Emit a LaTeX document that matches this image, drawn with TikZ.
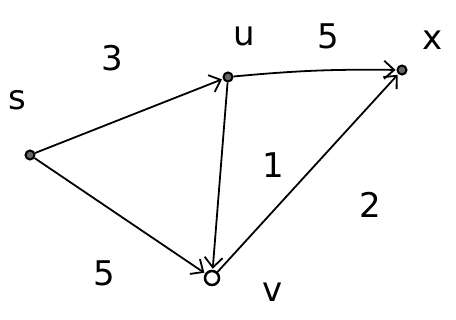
\documentclass[tikz,border=0pt]{standalone}
\usepackage{fontspec}
\setmainfont{DejaVu Sans}
\usetikzlibrary{arrows.meta}
\begin{document}
\begin{tikzpicture}[x=1pt,y=-1pt,
  vtx/.style={circle,draw,line width=2pt,fill=black!60,inner sep=0pt,minimum size=9pt},
  edge/.style={line width=1.8pt,-{Straight Barb[length=10pt,width=18pt,line width=1.8pt]},shorten >=1pt},
  lbl/.style={font=\fontsize{34}{36}\selectfont}]
\useasboundingbox (0,0) rectangle (456,320);
\node[vtx] (s) at (30,155) {};
\node[vtx] (u) at (228,77) {};
\node[vtx] (x) at (402,70) {};
\node[vtx,minimum size=14pt,fill=white,line width=2.5pt] (v) at (212,278) {};
\node[lbl] (ls) at (17,100) {s};
\node[lbl] (lu) at (244,36) {u};
\node[lbl] (lx) at (433,40) {x};
\node[lbl] (lv) at (273,292) {v};
\node[lbl] (w3) at (112,58) {3};
\node[lbl] (w5a) at (328,36) {5};
\node[lbl] (w1) at (273,165) {1};
\node[lbl] (w2) at (370,205) {2};
\node[lbl] (w5b) at (104,273) {5};
\draw[edge] (s) -- (u);
\draw[edge] (u) to[bend left=3] (x);
\draw[edge] (u) -- (v);
\draw[edge] (v) -- (x);
\draw[edge] (s) -- (v);
\end{tikzpicture}
\end{document}
